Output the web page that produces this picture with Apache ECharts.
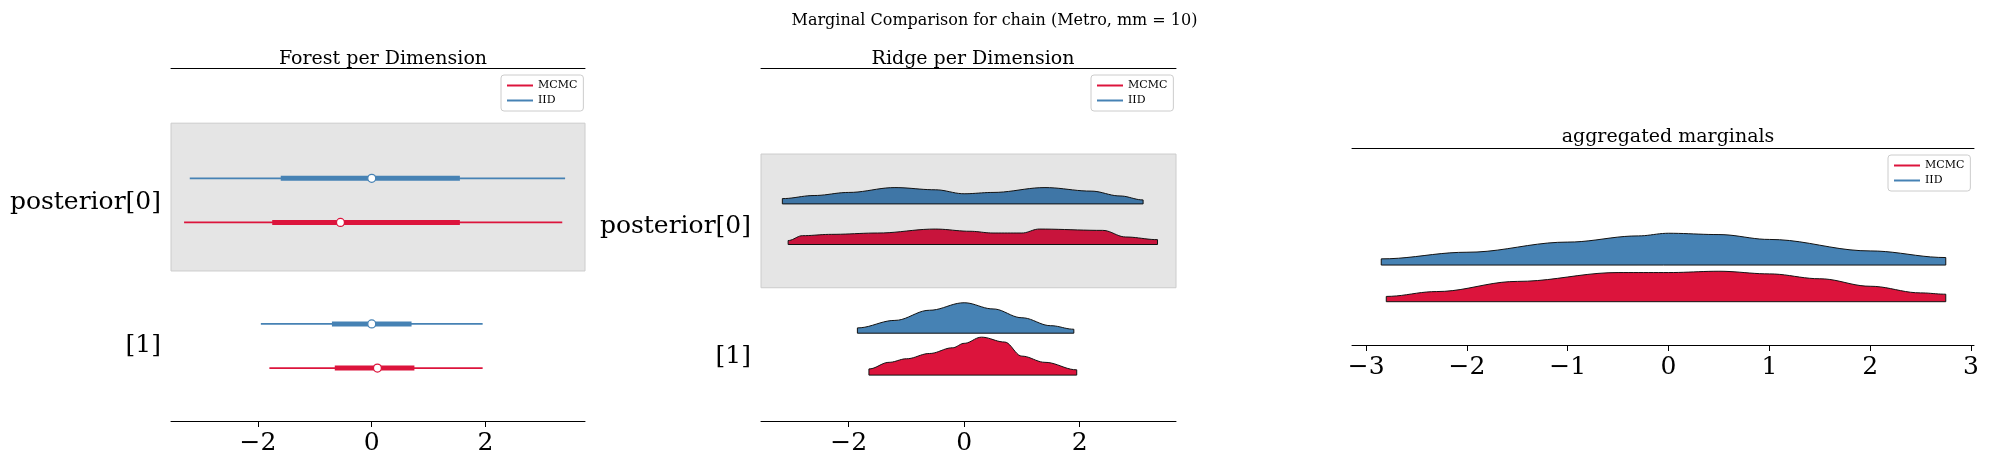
<!DOCTYPE html><html><head><meta charset="utf-8"><script src="https://cdn.jsdelivr.net/npm/echarts@6/dist/echarts.min.js"></script>
<style>html,body{margin:0;padding:0;background:#fff}#c{width:1989px;height:465px}</style></head><body><div id="c"></div><script>
const rowLabels=['posterior[0]','[1]'];
const xTicks12=[-2,0,2];
const xTicks3=[-3,-2,-1,0,1,2,3];
// forest: [lo, q1, center, q3, hi]
const forestIID=[[-3.2,-1.6,0,1.55,3.4],[-1.95,-0.7,0,0.7,1.95]];
const forestMCMC=[[-3.3,-1.75,-0.55,1.55,3.35],[-1.8,-0.65,0.1,0.75,1.95]];
// ridge densities [x, height]
const ridgeIID0=[[-3.15,0.12],[-2.6,0.19],[-2,0.26],[-1.2,0.37],[-0.5,0.32],[0,0.23],[0.5,0.26],[1.4,0.37],[2.2,0.29],[2.7,0.18],[3.1,0.09]];
const ridgeMCMC0=[[-3.05,0.09],[-2.8,0.2],[-2.3,0.23],[-1.5,0.26],[-0.5,0.35],[0.1,0.3],[0.5,0.26],[1,0.26],[1.3,0.35],[2.4,0.32],[2.8,0.17],[3.35,0.11]];
const ridgeIID1=[[-1.85,0.12],[-1.2,0.29],[-0.6,0.52],[0,0.69],[0.5,0.55],[1,0.35],[1.5,0.17],[1.9,0.09]];
const ridgeMCMC1=[[-1.65,0.14],[-1.3,0.29],[-1,0.37],[-0.6,0.49],[-0.2,0.62],[0,0.72],[0.3,0.86],[0.7,0.75],[1,0.43],[1.4,0.29],[1.95,0.12]];
const aggIID=[[-2.85,0.14],[-2,0.29],[-1,0.52],[-0.3,0.66],[0,0.72],[0.5,0.69],[1,0.58],[2,0.32],[2.75,0.17]];
const aggMCMC=[[-2.8,0.12],[-2.3,0.23],[-1.5,0.46],[-0.5,0.66],[0,0.66],[0.5,0.69],[1,0.63],[1.5,0.52],[2,0.35],[2.5,0.2],[2.75,0.17]];
const BLUE='#4682b4',RED='#dc143c',F='DejaVu Serif';
// row positions (y-axis units)
const fY={iid:[5.5,2.2],mcmc:[4.5,1.2],lab:[4.95,1.7]};
const rY={iid:[4.92,1.99],mcmc:[4.0,1.04],lab:[4.4,1.47]};
const aY={iid:1.81,mcmc:0.98};
function smooth(pts){const out=[];for(let i=0;i<pts.length-1;i++){const a=pts[i],b=pts[i+1];for(let t=0;t<10;t++){const s=t/10,w=(1-Math.cos(Math.PI*s))/2;out.push([a[0]+(b[0]-a[0])*s,a[1]+(b[1]-a[1])*w]);}}out.push(pts[pts.length-1]);return out;}
function ridgeSeries(xi,yi,pts,base,color){const sp=smooth(pts);return{type:'custom',xAxisIndex:xi,yAxisIndex:yi,data:[0],renderItem:(p,api)=>{const top=sp.map(q=>api.coord([q[0],base+q[1]]));const poly=top.concat([api.coord([sp[sp.length-1][0],base]),api.coord([sp[0][0],base])]);return{type:'group',children:[{type:'polygon',shape:{points:poly},style:{fill:color,stroke:'#111',lineWidth:1}}]};}};}
function forestSeries(rows,ys,color){return{type:'custom',xAxisIndex:0,yAxisIndex:0,data:rows.map((r,i)=>[i]),renderItem:(p,api)=>{const r=rows[p.dataIndex],y=ys[p.dataIndex];const a=api.coord([r[0],y]),b=api.coord([r[4],y]),c=api.coord([r[1],y]),d=api.coord([r[3],y]),m=api.coord([r[2],y]);return{type:'group',children:[{type:'line',shape:{x1:a[0],y1:a[1],x2:b[0],y2:b[1]},style:{stroke:color,lineWidth:1.8}},{type:'line',shape:{x1:c[0],y1:c[1],x2:d[0],y2:d[1]},style:{stroke:color,lineWidth:5}},{type:'circle',shape:{cx:m[0],cy:m[1],r:4},style:{fill:'#fff',stroke:color,lineWidth:1.3}}]};}};}
function band(xi,yi,y0,y1){return{type:'line',xAxisIndex:xi,yAxisIndex:yi,data:[],markArea:{silent:true,itemStyle:{color:'#e5e5e5',borderColor:'#cccccc',borderWidth:1},data:[[{yAxis:y0,xAxis:-100},{yAxis:y1,xAxis:100}]]}};}
function legendS(xi,yi,name,color){return{type:'line',name:name,xAxisIndex:xi,yAxisIndex:yi,data:[],itemStyle:{color:color},lineStyle:{color:color,width:1.5},symbol:'none'};}
const grids=[{left:171,width:414,top:68,height:353},{left:761,width:415,top:68,height:353},{left:1352,width:622,top:148,height:197}];
function xa(gi,min,max,ticks){return[{gridIndex:gi,type:'value',min:min,max:max,position:'bottom',axisLine:{show:true,lineStyle:{color:'#000',width:1}},splitLine:{show:false},axisTick:{show:true,customValues:ticks,length:6,lineStyle:{color:'#000'}},axisLabel:{customValues:ticks,color:'#000',fontFamily:F,fontSize:25,margin:10,formatter:v=>String(v).replace('-','\u2212')}},{gridIndex:gi,type:'value',min:min,max:max,position:'top',axisLine:{show:true,lineStyle:{color:'#000',width:1}},axisTick:{show:false},axisLabel:{show:false},splitLine:{show:false}}];}
function ya(gi,max,labs){return{gridIndex:gi,type:'value',min:0,max:max,axisLine:{show:false},splitLine:{show:false},axisTick:{show:false},axisLabel:labs?{customValues:labs,color:'#000',fontFamily:F,fontSize:25,margin:10,formatter:v=>rowLabels[labs.indexOf(v)]}:{show:false}};}
function leg(i,left,top){return{left:left,top:top,orient:'vertical',data:['MCMC','IID'],formatter:n=>n,textStyle:{fontFamily:F,fontSize:11,color:'#000'},itemWidth:26,itemHeight:10,itemGap:4,borderColor:'#ccc',borderWidth:1,borderRadius:3,padding:[5,6],icon:'path://M0,4h26v2h-26z',selectedMode:false};}
const opt={animation:false,
title:[{text:'Marginal Comparison for chain (Metro, mm = 10)',left:'center',top:8,textStyle:{fontFamily:F,fontSize:16,fontWeight:'normal',color:'#000'}},
{text:'Forest per Dimension',left:378,textAlign:'center',top:45,textStyle:{fontFamily:F,fontSize:19,fontWeight:'normal',color:'#000'}},
{text:'Ridge per Dimension',left:968,textAlign:'center',top:45,textStyle:{fontFamily:F,fontSize:19,fontWeight:'normal',color:'#000'}},
{text:'aggregated marginals',left:1663,textAlign:'center',top:123,textStyle:{fontFamily:F,fontSize:19,fontWeight:'normal',color:'#000'}}],
grid:grids,
xAxis:[...xa(0,-3.53,3.75,xTicks12),...xa(1,-3.52,3.67,xTicks12),...xa(2,-3.14,3.03,xTicks3)],
yAxis:[ya(0,8,fY.lab),ya(1,8,rY.lab),ya(2,4.46,null)],
legend:[{...leg(0),left:501,top:75,data:[{name:'MCMC',itemStyle:{color:RED}},{name:'IID',itemStyle:{color:BLUE}}]}],
series:[band(0,0,3.4,6.75),band(2,1,3.02,6.05),
forestSeries(forestIID,fY.iid,BLUE),forestSeries(forestMCMC,fY.mcmc,RED),
ridgeSeries(2,1,ridgeIID0,rY.iid[0],'#3f76a6'),ridgeSeries(2,1,ridgeMCMC0,rY.mcmc[0],'#c8143c'),
ridgeSeries(2,1,ridgeIID1,rY.iid[1],BLUE),ridgeSeries(2,1,ridgeMCMC1,rY.mcmc[1],RED),
ridgeSeries(4,2,aggIID,aY.iid,BLUE),ridgeSeries(4,2,aggMCMC,aY.mcmc,RED),
legendS(0,0,'MCMC',RED),legendS(0,0,'IID',BLUE)]};
// additional legends for panels 2 and 3
opt.legend.push({...leg(1),left:1091,top:75,data:[{name:'MCMC',itemStyle:{color:RED}},{name:'IID',itemStyle:{color:BLUE}}]});
opt.legend.push({...leg(2),left:1888,top:155,data:[{name:'MCMC',itemStyle:{color:RED}},{name:'IID',itemStyle:{color:BLUE}}]});
echarts.init(document.getElementById('c')).setOption(opt);
</script></body></html>
